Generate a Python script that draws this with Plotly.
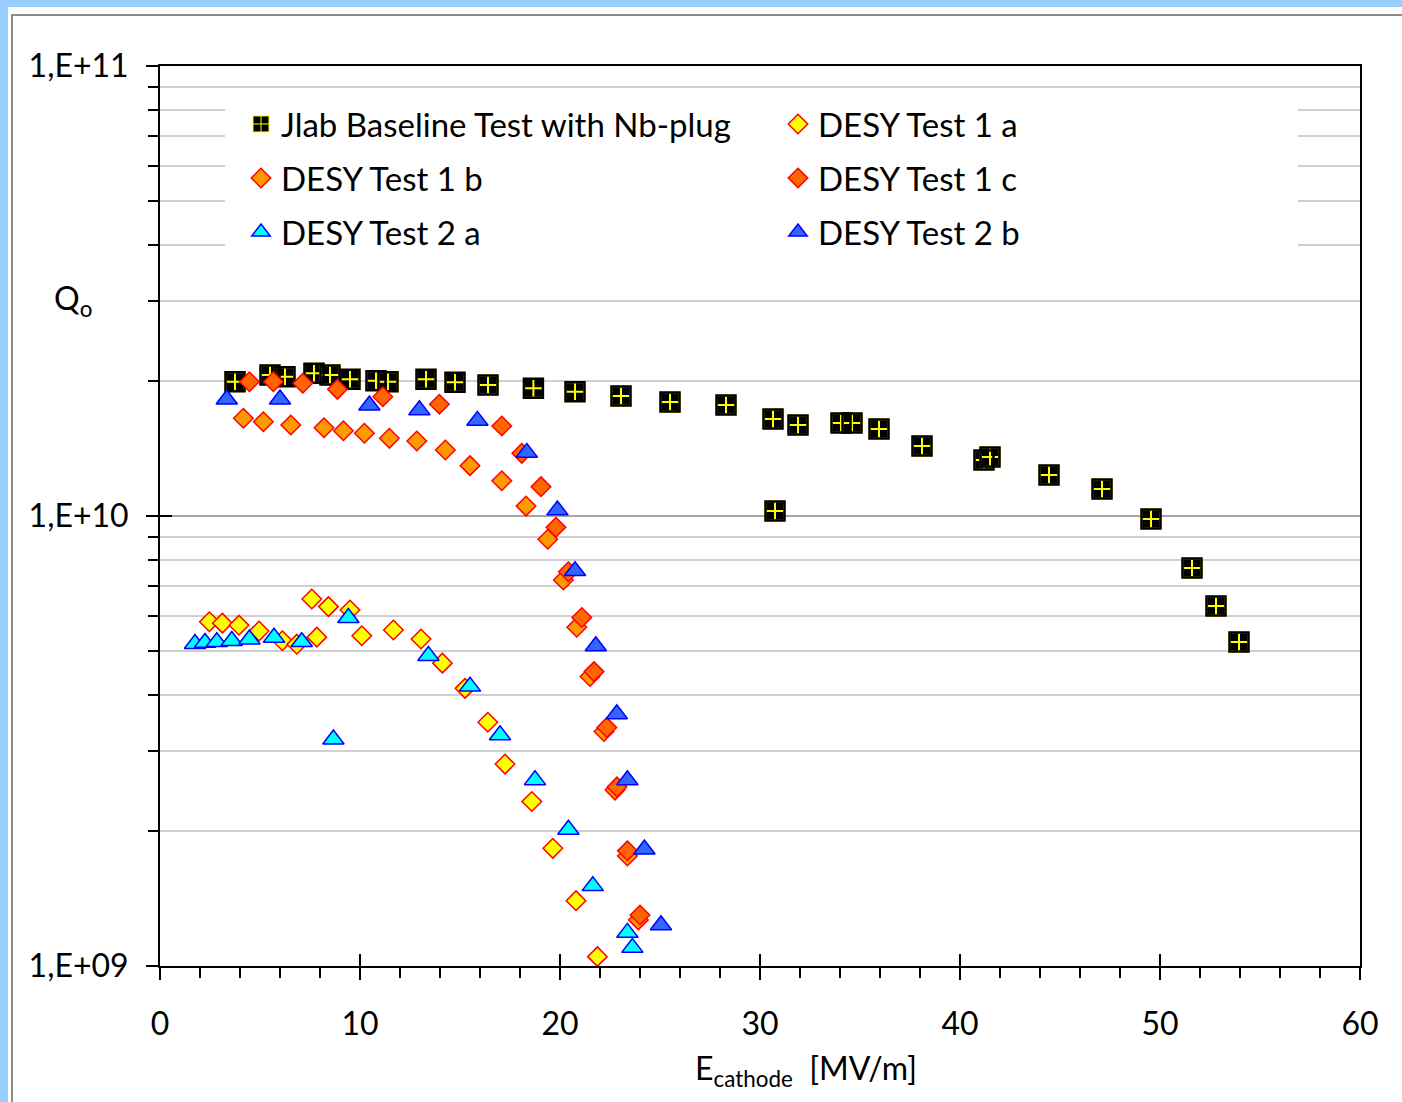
import plotly.graph_objects as go

# ---------------- data ----------------
jlab_x = [3.75, 5.5, 6.25, 7.7, 8.5, 9.5, 10.8, 11.4, 13.3, 14.75, 16.4, 18.67, 20.75,
          23.05, 25.5, 28.3, 30.65, 30.75, 31.9, 34.05, 34.6, 35.95, 38.1, 41.2, 41.5,
          44.45, 47.1, 49.55, 51.6, 52.8, 53.95]
jlab_y = [1.988e10, 2.057e10, 2.04e10, 2.075e10, 2.057e10, 2.013e10, 1.998e10, 1.988e10,
          2.013e10, 1.982e10, 1.955e10, 1.922e10, 1.889e10, 1.848e10, 1.792e10, 1.765e10,
          1.643e10, 1.026e10, 1.593e10, 1.609e10, 1.609e10, 1.561e10, 1.431e10, 1.332e10,
          1.353e10, 1.233e10, 1.148e10, 9.85e9, 7.66e9, 6.31e9, 5.25e9]

d1a_x = [2.47, 3.12, 3.95, 4.95, 6.12, 6.84, 7.59, 7.84, 8.42, 9.5, 10.09, 11.67, 13.05,
         14.12, 15.25, 16.39, 17.25, 18.59, 19.64, 20.8, 21.87]
d1a_y = [5.82e9, 5.78e9, 5.72e9, 5.55e9, 5.28e9, 5.19e9, 6.54e9, 5.38e9, 6.29e9, 6.18e9,
         5.42e9, 5.58e9, 5.33e9, 4.71e9, 4.14e9, 3.48e9, 2.81e9, 2.32e9, 1.826e9, 1.397e9,
         1.049e9]

d1b_x = [4.17, 5.17, 6.54, 8.2, 9.17, 10.22, 11.47, 12.84, 14.27, 15.5, 17.09, 18.3, 19.39,
         20.17, 20.84, 21.5, 22.2, 22.75, 23.37, 23.92]
d1b_y = [1.649e10, 1.62e10, 1.593e10, 1.571e10, 1.547e10, 1.527e10, 1.488e10, 1.468e10,
         1.402e10, 1.294e10, 1.198e10, 1.052e10, 8.88e9, 7.21e9, 5.66e9, 4.40e9, 3.32e9,
         2.46e9, 1.756e9, 1.266e9]

d1c_x = [4.47, 5.67, 7.14, 8.87, 11.14, 13.97, 17.09, 18.09, 19.05, 19.8, 20.42, 21.09,
         21.7, 22.34, 22.85, 23.37, 24.0]
d1c_y = [1.988e10, 1.988e10, 1.972e10, 1.912e10, 1.841e10, 1.771e10, 1.585e10, 1.378e10,
         1.162e10, 9.44e9, 7.52e9, 5.95e9, 4.51e9, 3.39e9, 2.50e9, 1.804e9, 1.298e9]

d2a_x = [1.75, 2.25, 2.84, 3.59, 4.47, 5.7, 7.09, 8.67, 9.42, 13.42, 15.5, 17.0, 18.75,
         20.42, 21.64, 23.37, 23.62]
d2a_y = [5.20e9, 5.23e9, 5.25e9, 5.28e9, 5.32e9, 5.37e9, 5.25e9, 3.19e9, 5.94e9, 4.89e9,
         4.18e9, 3.26e9, 2.59e9, 2.01e9, 1.506e9, 1.186e9, 1.098e9]

d2b_x = [3.34, 6.0, 10.47, 12.97, 15.87, 18.34, 19.87, 20.75, 21.79, 22.84, 23.37, 24.22,
         25.05]
d2b_y = [1.817e10, 1.817e10, 1.762e10, 1.72e10, 1.629e10, 1.383e10, 1.03e10, 7.55e9,
         5.14e9, 3.63e9, 2.59e9, 1.817e9, 1.233e9]

names = ["Jlab Baseline Test with Nb-plug", "DESY Test 1 a", "DESY Test 1 b",
         "DESY Test 1 c", "DESY Test 2 a", "DESY Test 2 b"]

y_major = [1e9, 1e10, 1e11]
y_major_text = ["1,E+09", "1,E+10", "1,E+11"]
y_minor = [m * 10 ** e for e in (9, 10) for m in range(2, 10)]
x_ticks = [0, 10, 20, 30, 40, 50, 60]

FONT = "Lato"
FS = 32
LFS = 33

# plot area in pixels: x 160..1360, y 66..966
def px(xp):
    return (xp - 160) / 1200.0

def py(yp):
    return (966 - yp) / 900.0

fig = go.Figure()

# Jlab: black square with yellow cross (legend entry via empty helper trace)
fig.add_trace(go.Scatter(x=[None], y=[None], mode="markers", name=names[0],
                         legendgroup="j", legend="legend",
                         marker=dict(symbol="square-cross", size=16, color="black",
                                     line=dict(color="#FFFF00", width=1))))
fig.add_trace(go.Scatter(x=jlab_x, y=jlab_y, mode="markers", showlegend=False,
                         legendgroup="j", name=names[0],
                         marker=dict(symbol="square-cross", size=19, color="black",
                                     line=dict(color="#FFFF00", width=2))))
fig.add_trace(go.Scatter(x=jlab_x, y=jlab_y, mode="markers", showlegend=False,
                         legendgroup="j", hoverinfo="skip",
                         marker=dict(symbol="square-open", size=19, color="black",
                                     line=dict(color="black", width=2.5))))

fig.add_trace(go.Scatter(x=d1a_x, y=d1a_y, mode="markers", name=names[1], legend="legend2",
                         marker=dict(symbol="diamond", size=15, color="#FFFF00",
                                     line=dict(color="#FF0000", width=1.5))))
fig.add_trace(go.Scatter(x=d1b_x, y=d1b_y, mode="markers", name=names[2], legend="legend3",
                         marker=dict(symbol="diamond", size=15, color="#FF9900",
                                     line=dict(color="#FF0000", width=1.5))))
fig.add_trace(go.Scatter(x=d1c_x, y=d1c_y, mode="markers", name=names[3], legend="legend4",
                         marker=dict(symbol="diamond", size=15, color="#FF6600",
                                     line=dict(color="#FF0000", width=1.5))))
fig.add_trace(go.Scatter(x=d2a_x, y=d2a_y, mode="markers", name=names[4], legend="legend5",
                         marker=dict(symbol="triangle-up", size=18.5, color="#00FFFF",
                                     line=dict(color="#0000FF", width=1.5))))
fig.add_trace(go.Scatter(x=d2b_x, y=d2b_y, mode="markers", name=names[5], legend="legend6",
                         marker=dict(symbol="triangle-up", size=18.5, color="#3366FF",
                                     line=dict(color="#0000FF", width=1.5))))

# dummy trace on overlay axes (for inner halves of major ticks)
fig.add_trace(go.Scatter(x=[None], y=[None], xaxis="x2", yaxis="y2", showlegend=False,
                         hoverinfo="skip"))

def leg(xp, yp):
    return dict(orientation="v", bgcolor="rgba(0,0,0,0)",
                font=dict(family=FONT, size=LFS, color="black"),
                x=px(xp), y=py(yp), xanchor="left", yanchor="middle", itemwidth=30)

col1, col2 = 241, 778
rows = [124, 178, 232]

fig.update_layout(
    width=1402, height=1102,
    margin=dict(l=160, r=42, t=66, b=136),
    paper_bgcolor="white", plot_bgcolor="white",
    font=dict(family=FONT, size=FS, color="black"),
    showlegend=True,
    legend=leg(col1, rows[0]),
    legend2=leg(col2, rows[0]),
    legend3=leg(col1, rows[1]),
    legend4=leg(col2, rows[1]),
    legend5=leg(col1, rows[2]),
    legend6=leg(col2, rows[2]),
    xaxis=dict(range=[0, 60], tickvals=x_ticks, ticktext=[str(v) for v in x_ticks],
               ticks="outside", ticklen=12, tickwidth=2, tickcolor="black",
               showgrid=False, zeroline=False,
               showline=True, linecolor="black", linewidth=2, mirror=True,
               minor=dict(dtick=2, tick0=0, ticks="outside", ticklen=10, tickwidth=1.5,
                          tickcolor="black", showgrid=False),
               ticklabelstandoff=17,
               tickfont=dict(family=FONT, size=FS, color="black")),
    yaxis=dict(type="log", range=[9, 11], tickvals=y_major, ticktext=y_major_text,
               ticks="outside", ticklen=12, tickwidth=2, tickcolor="black",
               showgrid=True, gridcolor="#A6A6A6", gridwidth=1.5, zeroline=False,
               showline=True, linecolor="black", linewidth=2, mirror=True,
               minor=dict(tickmode="array", tickvals=y_minor, ticks="outside", ticklen=10,
                          tickwidth=1.5, tickcolor="black", showgrid=True,
                          gridcolor="#CFCFCF", gridwidth=1.5),
               ticklabelstandoff=11,
               tickfont=dict(family=FONT, size=FS, color="black")),
    xaxis2=dict(range=[0, 60], overlaying="x", anchor="y2", side="bottom",
                tickvals=x_ticks, ticks="inside", ticklen=12, tickwidth=2,
                tickcolor="black", showticklabels=False, showgrid=False,
                zeroline=False, showline=False),
    yaxis2=dict(type="log", range=[9, 11], overlaying="y", anchor="x2", side="left",
                tickvals=y_major, ticks="inside", ticklen=12, tickwidth=2,
                tickcolor="black", showticklabels=False, showgrid=False,
                zeroline=False, showline=False),
)

# white box behind legend (covers gridlines), light-blue frame and chart-area border
fig.add_shape(type="rect", xref="paper", yref="paper", layer="above",
              x0=px(225), x1=px(1298), y0=py(262), y1=py(100),
              fillcolor="white", line=dict(width=0))
fig.add_shape(type="rect", xref="paper", yref="paper", layer="below",
              x0=px(-5), x1=px(1410), y0=py(7), y1=py(-5),
              fillcolor="#99CCFF", line=dict(width=0))
fig.add_shape(type="rect", xref="paper", yref="paper", layer="below",
              x0=px(-5), x1=px(8), y0=py(1110), y1=py(-5),
              fillcolor="#99CCFF", line=dict(width=0))
fig.add_shape(type="rect", xref="paper", yref="paper", layer="below",
              x0=px(12), x1=px(1420), y0=py(1120), y1=py(15),
              fillcolor="rgba(0,0,0,0)", line=dict(color="#8C8C8C", width=2))

# axis titles
fig.add_annotation(xref="paper", yref="paper", x=px(73), y=py(300), showarrow=False,
                   text="Q<sub>o</sub>", font=dict(family=FONT, size=FS, color="black"),
                   xanchor="center", yanchor="middle")
fig.add_annotation(xref="paper", yref="paper", x=px(806), y=py(1070), showarrow=False,
                   text="E<sub>cathode</sub>  [MV/m]",
                   font=dict(family=FONT, size=FS, color="black"),
                   xanchor="center", yanchor="middle")

fig.write_html("out.html", config={"displayModeBar": False},
               post_script="document.body.style.margin='0px';")
